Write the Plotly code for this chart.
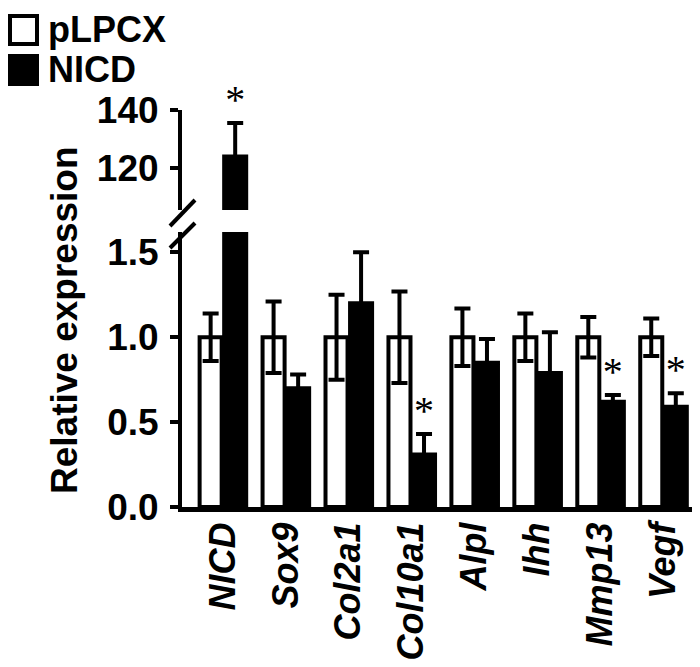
import plotly.graph_objects as go

# --- data ---
genes = ["NICD", "Sox9", "Col2a1", "Col10a1", "Alpl", "Ihh", "Mmp13", "Vegf"]
plpcx_mean = [1.0, 1.0, 1.0, 1.0, 1.0, 1.0, 1.0, 1.0]
plpcx_err = [0.14, 0.21, 0.25, 0.27, 0.17, 0.14, 0.12, 0.11]
nicd_mean = [124.0, 0.70, 1.20, 0.31, 0.85, 0.79, 0.62, 0.59]
nicd_err = [11.5, 0.08, 0.30, 0.12, 0.14, 0.24, 0.04, 0.08]
significant = [True, False, False, True, False, False, True, True]

LOW_RANGE = [0, 1.62]
HIGH_RANGE = [105.5, 140]

# --- geometry ---
# the page body has an 8px margin, so the figure is drawn 8px in from the corner
PAD = 8
W, H = 700 - PAD, 667 - PAD
ML, MR, MT, MB = 182 - PAD, 5, 110 - PAD, 160
PW, PH = W - ML - MR, H - MT - MB
LOW_TOP_PX, HIGH_BOT_PX = 232, 210  # page pixels


def px_x(px):
    return (px - PAD - ML) / PW


def px_y(py):
    return (H - MB - (py - PAD)) / PH


FONT = "Liberation Sans, Arial, sans-serif"
BAR_W = 0.35
OFF_A, OFF_B = -0.37, 0.02
xs = list(range(len(genes)))

bar_line = dict(color="black", width=4)
err_style = dict(color="black", thickness=4, width=8)

fig = go.Figure()

# lower panel
fig.add_trace(go.Bar(
    x=xs, y=plpcx_mean, width=BAR_W, offset=OFF_A,
    error_y=dict(type="data", array=plpcx_err, **err_style),
    marker=dict(color="white", line=bar_line), name="pLPCX", showlegend=False,
    xaxis="x", yaxis="y",
))
fig.add_trace(go.Bar(
    x=xs, y=nicd_mean, width=BAR_W, offset=OFF_B,
    error_y=dict(type="data", array=nicd_err, **err_style),
    marker=dict(color="black", line=bar_line), name="NICD", showlegend=False,
    xaxis="x", yaxis="y",
))

# upper panel: only bars that exceed the lower range
hi = [i for i, v in enumerate(nicd_mean) if v > LOW_RANGE[1]]
fig.add_trace(go.Bar(
    x=hi, y=[nicd_mean[i] for i in hi], width=BAR_W, offset=OFF_B,
    error_y=dict(type="data", array=[nicd_err[i] for i in hi], **err_style),
    marker=dict(color="black", line=bar_line), showlegend=False,
    xaxis="x", yaxis="y2",
))

# significance stars
star_lo = [i for i in xs if significant[i] and i not in hi]
star_hi = [i for i in xs if significant[i] and i in hi]
star_font = dict(family="Liberation Serif, Times New Roman, serif", size=40, color="black")
fig.add_trace(go.Scatter(
    x=[i + OFF_B + BAR_W / 2 for i in star_lo],
    y=[nicd_mean[i] + nicd_err[i] for i in star_lo],
    mode="text", text=["*"] * len(star_lo), textposition="top center",
    textfont=star_font, cliponaxis=False, showlegend=False, xaxis="x", yaxis="y",
))
fig.add_trace(go.Scatter(
    x=[i + OFF_B + BAR_W / 2 for i in star_hi],
    y=[nicd_mean[i] + nicd_err[i] for i in star_hi],
    mode="text", text=["*"] * len(star_hi), textposition="top center",
    textfont=star_font, cliponaxis=False, showlegend=False, xaxis="x", yaxis="y2",
))

axis_common = dict(
    showline=True, linecolor="black", linewidth=4, ticks="outside", ticklen=8,
    tickwidth=4, tickcolor="black", showgrid=False, zeroline=False,
    tickfont=dict(family=FONT, size=37, color="black", weight="bold"),
    ticklabelstandoff=4,
)

fig.update_layout(
    width=W, height=H, plot_bgcolor="white", paper_bgcolor="white",
    margin=dict(l=ML, r=MR, t=MT, b=MB),
    barmode="overlay", showlegend=False,
    xaxis=dict(
        range=[-0.65, 7.5], tickvals=xs, ticktext=genes, tickangle=-90,
        showline=True, linecolor="black", linewidth=5, ticks="", showgrid=False,
        zeroline=False, anchor="y", ticklabelstandoff=-4,
        tickfont=dict(family=FONT, size=36, color="black", weight="bold", style="italic"),
    ),
    yaxis=dict(
        range=LOW_RANGE, domain=[0, px_y(LOW_TOP_PX)], tickvals=[0, 0.5, 1.0, 1.5],
        tickformat=".1f", anchor="x", **axis_common,
    ),
    yaxis2=dict(
        range=HIGH_RANGE, domain=[px_y(HIGH_BOT_PX), 1], tickvals=[120, 140],
        anchor="x", **axis_common,
    ),
)

# axis break marks
for y0, y1 in [(226, 200), (248, 223)]:
    fig.add_shape(type="line", xref="paper", yref="paper",
                  x0=px_x(170), x1=px_x(195), y0=px_y(y0), y1=px_y(y1),
                  line=dict(color="black", width=4))

# y title
fig.add_annotation(
    text="Relative expression", textangle=-90, xref="paper", yref="paper",
    x=px_x(64), y=px_y(320), xanchor="center", yanchor="middle", showarrow=False,
    font=dict(family=FONT, size=37, color="black", weight="bold"),
)

# manual legend with large swatches
for (label, fill), top in zip([("pLPCX", "white"), ("NICD", "black")], [16, 56]):
    fig.add_shape(type="rect", xref="paper", yref="paper",
                  x0=px_x(10), x1=px_x(37), y0=px_y(top + 28), y1=px_y(top),
                  fillcolor=fill, line=dict(color="black", width=4))
    fig.add_annotation(
        text=label, xref="paper", yref="paper", x=px_x(46), y=px_y(top + 14),
        xanchor="left", yanchor="middle", showarrow=False,
        font=dict(family=FONT, size=36, color="black", weight="bold"),
    )

fig.write_html("out.html")
